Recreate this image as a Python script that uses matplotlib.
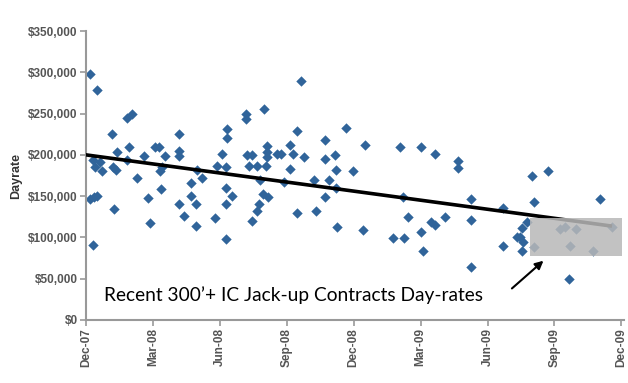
import matplotlib
matplotlib.use("Agg")
import matplotlib.pyplot as plt
from matplotlib.patches import Rectangle

# months since Dec-07, dayrate in $ thousands
months = [0.18, 0.49, 0.18, 0.36, 0.49, 0.31, 0.31, 0.62, 0.72, 0.40,
          1.16, 1.20, 1.34, 1.38, 1.25, 1.83, 2.05, 1.92, 1.83, 2.27,
          2.58, 2.85, 2.80, 3.07, 3.25, 3.56, 3.39, 3.30, 3.34, 4.19,
          4.19, 4.19, 4.19, 4.37, 4.70, 4.72, 4.94, 4.94, 4.99, 5.21,
          5.79, 5.88, 6.10, 6.33, 6.33, 6.28, 6.28, 6.28, 6.55, 6.28,
          7.17, 7.17, 7.22, 7.44, 7.30, 7.66, 7.44, 7.66, 7.75, 7.93,
          8.15, 7.80, 7.97, 8.10, 8.10, 8.10, 8.06, 8.55, 8.73, 8.86,
          9.13, 9.13, 9.44, 9.30, 9.44, 9.62, 9.75, 10.20, 10.30, 10.73,
          10.73, 10.70, 10.90, 11.18, 11.22, 11.22, 11.27, 11.67, 11.95, 12.43,
          12.50, 13.76, 14.08, 14.20, 14.25, 14.43, 15.00, 15.00, 15.10, 15.46,
          15.63, 15.63, 16.08, 16.66, 16.66, 17.24, 17.24, 17.24, 18.70, 18.70,
          19.33, 19.47, 19.55, 19.78, 19.60, 19.55, 20.00, 20.09, 20.09, 20.70,
          21.25, 21.47, 21.96, 21.69, 21.65, 22.72, 23.03, 23.56]
dayrate = [298, 279, 146, 149, 150, 91, 194, 191, 181, 185,
           225, 185, 182, 203, 135, 245, 250, 209, 194, 172,
           199, 118, 148, 209, 210, 199, 185, 181, 159, 225,
           205, 199, 140, 126, 166, 150, 140, 114, 182, 172,
           123, 187, 201, 231, 221, 185, 160, 140, 150, 98,
           249, 244, 200, 200, 186, 186, 120, 132, 140, 152,
           149, 170, 255, 211, 204, 197, 186, 201, 201, 167,
           212, 183, 229, 201, 130, 289, 197, 170, 132, 218,
           195, 149, 170, 200, 182, 160, 113, 232, 181, 109,
           212, 99, 210, 149, 99, 125, 209, 106, 84, 119,
           115, 201, 125, 192, 184, 146, 121, 64, 136, 90,
           101, 101, 112, 119, 95, 84, 174, 143, 89, 181,
           110, 113, 110, 90, 50, 83, 147, 113]

trend_x = [0, 23.5]
trend_y = [200, 114]

box_x = [19.9, 24.05]
box_y = [77.7, 124]

tick_months = [0, 3, 6, 9, 12, 15, 18, 21, 24]
tick_names = ["Dec-07", "Mar-08", "Jun-08", "Sep-08", "Dec-08",
              "Mar-09", "Jun-09", "Sep-09", "Dec-09"]
y_ticks = [0, 50, 100, 150, 200, 250, 300, 350]
y_names = ["$0", "$50,000", "$100,000", "$150,000", "$200,000",
           "$250,000", "$300,000", "$350,000"]

note = "Recent 300\u2019+ IC Jack-up Contracts Day-rates"

fig = plt.figure(figsize=(6.28, 3.83), dpi=100)
ax = fig.add_axes([0.137, 0.1645, 0.856, 0.7545])

ax.scatter(months, dayrate, marker="D", s=28, color="#30649a", linewidths=0, zorder=2)
ax.plot(trend_x, trend_y, color="black", lw=2.6, zorder=3)
ax.add_patch(Rectangle((box_x[0], box_y[0]), box_x[1] - box_x[0], box_y[1] - box_y[0],
                       facecolor="#b8b8b8", alpha=0.85, edgecolor="none", zorder=4,
                       clip_on=False))

ax.set_xlim(0, 24.1)
ax.set_ylim(0, 350)

tick_font = dict(family=["Liberation Sans Narrow", "Liberation Sans"], weight="bold",
                 size=8.5, color="#555555")
ax.set_xticks(tick_months)
ax.set_xticklabels(tick_names, rotation=90, **tick_font)
ax.set_yticks(y_ticks)
ax.set_yticklabels(y_names, **tick_font)
ax.set_ylabel("Dayrate", family=["Liberation Sans Narrow", "Liberation Sans"],
              weight="bold", size=9, color="#333333", labelpad=4)

for s in ["top", "right"]:
    ax.spines[s].set_visible(False)
for s in ["left", "bottom"]:
    ax.spines[s].set_color("#999999")
    ax.spines[s].set_linewidth(1.5)
ax.tick_params(axis="both", color="#999999", width=1.2, length=4, pad=2)

ax.text(0.8, 30, note, family=["Lato", "DejaVu Sans"], size=13.8, color="black",
        va="center", ha="left", zorder=5)
ax.annotate("", xy=(20.6, 74), xytext=(19.0, 36),
            arrowprops=dict(arrowstyle="-|>", color="black", lw=1.5,
                            mutation_scale=12), zorder=5)

fig.savefig("out.png", dpi=100)
